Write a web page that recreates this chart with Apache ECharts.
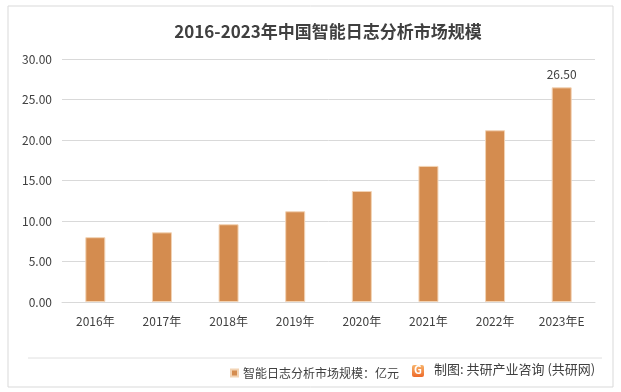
<!DOCTYPE html>
<html>
<head>
<meta charset="utf-8">
<script src="https://cdn.jsdelivr.net/npm/echarts@6/dist/echarts.min.js"></script>
<style>
html,body{margin:0;padding:0;background:#fff;}
#c{width:621px;height:392px;}
</style>
</head>
<body>
<div id="c"></div>
<script>
const categories = ['2016年','2017年','2018年','2019年','2020年','2021年','2022年','2023年E'];
const values = [8.0, 8.6, 9.6, 11.2, 13.7, 16.8, 21.2, 26.5];
const seriesName = '智能日志分析市场规模：亿元';
const titleText = '2016-2023年中国智能日志分析市场规模';
const creditText = '制图: 共研产业咨询 (共研网)';

const FONT = '"Noto Sans CJK SC", "Microsoft YaHei", sans-serif';
const chart = echarts.init(document.getElementById('c'));
chart.setOption({
  backgroundColor: '#fff',
  animation: false,
  textStyle: { fontFamily: FONT },
  title: {
    text: titleText,
    left: 323, top: 18, textAlign: 'center',
    textStyle: { fontFamily: FONT, fontSize: 17, fontWeight: 'bold', color: '#404040' }
  },
  grid: { left: 62, right: 26, top: 59, bottom: 90, containLabel: false },
  legend: {
    data: [seriesName],
    left: 225, top: 362,
    icon: 'rect', itemWidth: 7, itemHeight: 7, itemGap: 3,
    textStyle: { fontFamily: FONT, fontSize: 12, color: '#404040' }
  },
  xAxis: {
    type: 'category', data: categories,
    axisLine: { lineStyle: { color: '#d9d9d9' } },
    axisTick: { show: false },
    axisLabel: { color: '#404040', fontSize: 12, margin: 13, fontFamily: FONT }
  },
  yAxis: {
    type: 'value', min: 0, max: 30, interval: 5,
    axisLine: { show: false }, axisTick: { show: false },
    splitLine: { lineStyle: { color: '#d9d9d9' } },
    axisLabel: { color: '#404040', fontSize: 12, margin: 10, fontFamily: FONT,
      formatter: v => v.toFixed(2) }
  },
  series: [{
    name: seriesName, type: 'bar', data: values, barWidth: 20,
    itemStyle: { color: '#D48C4F', borderColor: '#F2D3B4', borderWidth: 1 },
    label: {
      show: true, position: 'top', distance: 7, color: '#404040', fontSize: 12,
      fontFamily: FONT,
      formatter: p => p.dataIndex === values.length - 1 ? p.value.toFixed(2) : ''
    }
  }],
  graphic: [
    { type: 'rect', shape: { x: 8, y: 6, width: 605, height: 381 },
      style: { fill: 'none', stroke: '#d9d9d9', lineWidth: 1 }, silent: true, z: -1 },
    { type: 'line', shape: { x1: 28, y1: 358, x2: 602, y2: 358 },
      style: { stroke: '#e0e0e0', lineWidth: 1 } },
    { type: 'rect', shape: { x: 412, y: 365, width: 12, height: 12, r: 2 },
      style: { fill: new echarts.graphic.LinearGradient(0,0,0,1,[{offset:0,color:'#F7B36A'},{offset:1,color:'#EE6A2A'}]) } },
    { type: 'text', left: 414, top: 364,
      style: { text: 'G', fill: '#fff', font: 'bold 11px ' + FONT } },
    { type: 'text', left: 434, top: 363,
      style: { text: creditText, fill: '#404040', font: '13px ' + FONT } }
  ]
});
</script>
</body>
</html>
